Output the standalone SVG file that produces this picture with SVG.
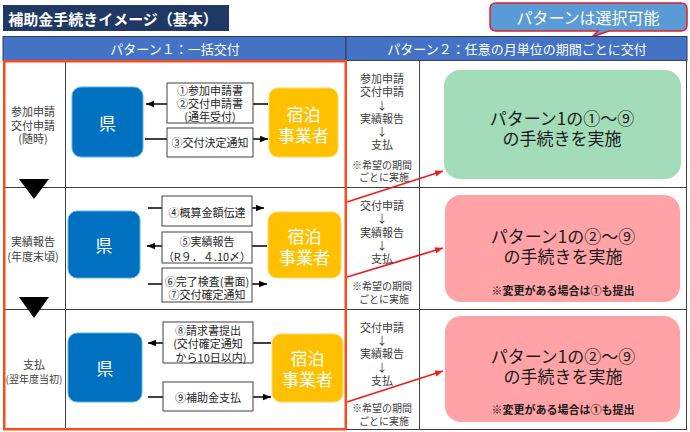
<svg xmlns="http://www.w3.org/2000/svg" width="690" height="432" viewBox="0 0 690 432">
<defs>
<marker id="ah" viewBox="0 0 10 10" refX="10" refY="5" markerWidth="8" markerHeight="8" markerUnits="userSpaceOnUse" orient="auto"><path d="M0,1 L10,5 L0,9 z" fill="#000"/></marker>
<marker id="rah" viewBox="0 0 10 10" refX="10" refY="5" markerWidth="8" markerHeight="8" markerUnits="userSpaceOnUse" orient="auto"><path d="M0,1 L10,5 L0,9 z" fill="#F01E1E"/></marker>
</defs>
<style>
text{font-family:"Noto Sans CJK JP","Noto Sans",sans-serif;dominant-baseline:central;text-anchor:middle}
.grid{stroke:#404040;stroke-width:1;fill:none}
.hdr{fill:#4472C4;stroke:#2F3F60;stroke-width:1}
.hdrt{fill:#fff;font-size:13px}
.ken{fill:#0070C0;stroke:#5BB4E5;stroke-width:1}
.shu{fill:#FFC000;stroke:#FFD966;stroke-width:1}
.nt{fill:#fff;font-size:17px}
.lb{fill:#fff;stroke:#404040;stroke-width:1}
.lt{fill:#262626;font-size:11px}
.rl{fill:#404040;font-size:11px}
.rs{fill:#404040;font-size:10px}
.big{fill:#1a1a1a;font-size:17px}
.note{fill:#1a1a1a;font-size:11px;font-weight:bold}
.conn{stroke:#000;stroke-width:1.5;fill:none;marker-end:url(#ah)}
.rconn{stroke:#F01E1E;stroke-width:1.8;fill:none;marker-end:url(#rah)}
</style>
<rect width="690" height="432" fill="#fff"/>

<g id="title">
<rect x="3" y="5" width="226" height="26" fill="#1F3864"/>
<text x="113" y="18" style="fill:#fff;font-size:15px;font-weight:bold">補助金手続きイメージ（基本）</text>
</g>

<g id="callout">
<path d="M496,3 H681 Q687,3 687,9 V25 Q687,31 681,31 H609 L592,37 L598,31 H496 Q490,31 490,25 V9 Q490,3 496,3 Z" fill="#5B9BD5" stroke="#E0202A" stroke-width="1.5"/>
<text x="588" y="17" style="fill:#fff;font-size:16px">パターンは選択可能</text>
</g>

<g id="headers">
<rect class="hdr" x="3" y="36.5" width="343" height="24"/>
<rect class="hdr" x="346" y="36.5" width="341" height="24"/>
<text class="hdrt" x="175" y="48.5">パターン１：一括交付</text>
<text class="hdrt" x="517" y="48.5">パターン２：任意の月単位の期間ごとに交付</text>
</g>

<g id="grid">
<rect class="grid" x="3.5" y="60.5" width="683" height="369"/>
<line class="grid" x1="65.5" y1="60.5" x2="65.5" y2="429.5"/>
<line class="grid" x1="346.5" y1="60.5" x2="346.5" y2="429.5"/>
<line class="grid" x1="419.5" y1="60.5" x2="419.5" y2="429.5"/>
<line class="grid" x1="3.5" y1="187.5" x2="686.5" y2="187.5"/>
<line class="grid" x1="3.5" y1="309.5" x2="686.5" y2="309.5"/>
</g>

<g id="row-labels">
<text class="rl" x="33" y="111">参加申請</text>
<text class="rl" x="33" y="125">交付申請</text>
<text class="rl" x="33" y="138">(随時)</text>
<text class="rl" x="33" y="241">実績報告</text>
<text class="rl" x="33" y="256">(年度末頃)</text>
<text class="rl" x="34" y="364">支払</text>
<text class="rl" x="34" y="378" style="font-size:10px">(翌年度当初)</text>
</g>

<g id="step-arrows">
<polygon points="19,179 49,179 34,199" fill="#000"/>
<polygon points="19,297 49,297 34,318" fill="#000"/>
</g>

<g id="ken1"><rect class="ken" x="72" y="87" width="71" height="70" rx="9"/><text class="nt" x="107.5" y="122">県</text></g>
<g id="ken2"><rect class="ken" x="68" y="211" width="72" height="67" rx="9"/><text class="nt" x="104" y="244.5">県</text></g>
<g id="ken3"><rect class="ken" x="68" y="333" width="74" height="69" rx="9"/><text class="nt" x="105" y="367.5">県</text></g>

<g id="shukuhaku1"><rect class="shu" x="269" y="88" width="69" height="69" rx="9"/><text class="nt" x="303.5" y="113">宿泊</text><text class="nt" x="303.5" y="134">事業者</text></g>
<g id="shukuhaku2"><rect class="shu" x="268" y="212" width="73" height="66" rx="9"/><text class="nt" x="304.5" y="235">宿泊</text><text class="nt" x="304.5" y="256">事業者</text></g>
<g id="shukuhaku3"><rect class="shu" x="272" y="334" width="71" height="68" rx="9"/><text class="nt" x="307.5" y="357">宿泊</text><text class="nt" x="307.5" y="378">事業者</text></g>

<g id="connectors">
<line class="conn" x1="268" y1="104" x2="146" y2="104"/>
<line class="conn" x1="145" y1="139" x2="268" y2="139"/>
<line class="conn" x1="148" y1="208" x2="264" y2="208"/>
<line class="conn" x1="267" y1="246" x2="147" y2="246"/>
<line class="conn" x1="148" y1="284" x2="267" y2="284"/>
<line class="conn" x1="271" y1="343" x2="148" y2="343"/>
<line class="conn" x1="148" y1="397" x2="271" y2="397"/>
<line class="rconn" x1="347" y1="202" x2="443" y2="171"/>
<line class="rconn" x1="347" y1="277" x2="443" y2="248"/>
<line class="rconn" x1="347" y1="402" x2="443" y2="371"/>
</g>

<g id="label1"><rect class="lb" x="167" y="83" width="86" height="40"/><text class="lt" x="210" y="90">①参加申請書</text><text class="lt" x="210" y="103">②交付申請書</text><text class="lt" x="210" y="116">(通年受付)</text></g>
<g id="label2"><rect class="lb" x="167" y="128" width="86" height="29"/><text class="lt" x="210" y="142">③交付決定通知</text></g>
<g id="label3"><rect class="lb" x="162" y="196" width="90" height="30"/><text class="lt" x="207" y="211.5">④概算金額伝達</text></g>
<g id="label4"><rect class="lb" x="162" y="232" width="90" height="31"/><text class="lt" x="207" y="241">⑤実績報告</text><text class="lt" x="207" y="255.5">（R９．４.10〆）</text></g>
<g id="label5"><rect class="lb" x="162" y="268" width="90" height="34"/><text class="lt" x="207" y="280.5">⑥完了検査(書面)</text><text class="lt" x="207" y="293.5">⑦交付確定通知</text></g>
<g id="label6"><rect class="lb" x="163" y="322" width="90" height="41"/><text class="lt" x="208" y="330">⑧請求書提出</text><text class="lt" x="208" y="343">(交付確定通知</text><text class="lt" x="211" y="356.5">から10日以内)</text></g>
<g id="label7"><rect class="lb" x="163" y="382" width="90" height="29"/><text class="lt" x="208" y="396.5">⑨補助金支払</text></g>

<g id="red-outline">
<rect x="4.25" y="61.25" width="341.5" height="368" fill="none" stroke="#FF4A1C" stroke-width="2.5"/>
</g>

<g id="p2-labels1">
<text class="rl" x="382" y="78">参加申請</text>
<text class="rl" x="382" y="91">交付申請</text>
<text class="rl" x="382" y="105">↓</text>
<text class="rl" x="382" y="117.5">実績報告</text>
<text class="rl" x="382" y="131">↓</text>
<text class="rl" x="382" y="144">支払</text>
<text class="rs" x="382" y="164">※希望の期間</text>
<text class="rs" x="384" y="176">ごとに実施</text>
</g>
<g id="p2-labels2">
<text class="rl" x="382" y="205">交付申請</text>
<text class="rl" x="382" y="218">↓</text>
<text class="rl" x="382" y="232">実績報告</text>
<text class="rl" x="382" y="245">↓</text>
<text class="rl" x="382" y="258">支払</text>
<text class="rs" x="382" y="285">※希望の期間</text>
<text class="rs" x="384" y="298">ごとに実施</text>
</g>
<g id="p2-labels3">
<text class="rl" x="382" y="327">交付申請</text>
<text class="rl" x="382" y="340">↓</text>
<text class="rl" x="382" y="353">実績報告</text>
<text class="rl" x="382" y="367">↓</text>
<text class="rl" x="382" y="380">支払</text>
<text class="rs" x="382" y="407">※希望の期間</text>
<text class="rs" x="384" y="420">ごとに実施</text>
</g>

<g id="box-green">
<rect x="444" y="70" width="237" height="109" rx="16" fill="#A3DCB9"/>
<text class="big" x="562" y="117">パターン1の①～⑨</text>
<text class="big" x="562" y="137">の手続きを実施</text>
</g>
<g id="box-pink1">
<rect x="445" y="195" width="235" height="107" rx="16" fill="#FFA3A6"/>
<text class="big" x="563" y="235">パターン1の②～⑨</text>
<text class="big" x="563" y="255">の手続きを実施</text>
<text class="note" x="563" y="290">※変更がある場合は①も提出</text>
</g>
<g id="box-pink2">
<rect x="445" y="316" width="235" height="106" rx="16" fill="#FFA3A6"/>
<text class="big" x="563" y="355">パターン1の②～⑨</text>
<text class="big" x="563" y="375">の手続きを実施</text>
<text class="note" x="563" y="409">※変更がある場合は①も提出</text>
</g>
</svg>
